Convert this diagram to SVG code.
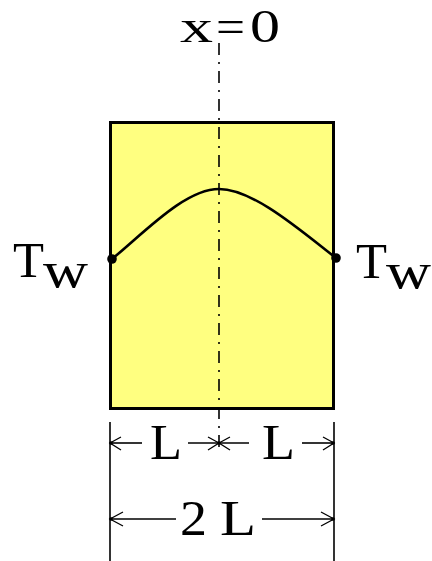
<svg xmlns="http://www.w3.org/2000/svg" width="432" height="561" viewBox="0 0 432 561">
<style>
.t{font-family:"Liberation Serif","Times New Roman",serif;fill:#000;font-size:50px}
.top{font-size:46px}
.ln{stroke:#000;stroke-width:1.6;fill:none}
.bar{stroke:#000;stroke-width:1.3;fill:none}
</style>
<rect width="432" height="561" fill="#fff"/>
<g id="plate">
<rect x="110.5" y="122.5" width="223" height="286" fill="#FFFF80" stroke="#000" stroke-width="3"/>
</g>
<g id="centerline">
<line x1="219" y1="43" x2="219" y2="453" stroke="#000" stroke-width="1.6" stroke-dasharray="12 7 2 7"/>
</g>
<g id="profile">
<path d="M112,259 C145,232 185,189 219,189 C253,189 300,230 336,258" fill="none" stroke="#000" stroke-width="2.6"/>
<circle cx="112" cy="259" r="4.8" fill="#000"/>
<circle cx="336" cy="258" r="4.8" fill="#000"/>
</g>
<g id="labels">
<text class="t top" x="180" y="42" textLength="33" lengthAdjust="spacingAndGlyphs">x</text>
<text class="t top" x="216" y="42" textLength="29" lengthAdjust="spacingAndGlyphs">=</text>
<text class="t top" x="250" y="42" textLength="30" lengthAdjust="spacingAndGlyphs">0</text>
<text class="t" x="13" y="277" textLength="31" lengthAdjust="spacingAndGlyphs">T</text>
<text class="t" x="43" y="287" font-size="52" textLength="45" lengthAdjust="spacingAndGlyphs">w</text>
<text class="t" x="356" y="278" textLength="31" lengthAdjust="spacingAndGlyphs">T</text>
<text class="t" x="386" y="288" font-size="52" textLength="45" lengthAdjust="spacingAndGlyphs">w</text>
</g>
<g id="dimensions">
<line class="ln" x1="110" y1="422" x2="110" y2="561"/>
<line class="ln" x1="334" y1="422" x2="334" y2="561"/>
<line class="ln" x1="110" y1="443" x2="142" y2="443"/>
<line class="ln" x1="188" y1="443" x2="249" y2="443"/>
<line class="ln" x1="302" y1="443" x2="334" y2="443"/>
<path class="bar" d="M121,437 L110,443 L121,450"/>
<path class="bar" d="M208,437 L219,443 L208,450"/>
<path class="bar" d="M230,437 L219,443 L230,450"/>
<path class="bar" d="M323,437 L334,443 L323,450"/>
<circle cx="111" cy="443" r="1.8" fill="#000"/>
<circle cx="219" cy="443" r="1.8" fill="#000"/>
<circle cx="333" cy="443" r="1.8" fill="#000"/>
<text class="t" x="150" y="459" textLength="32" lengthAdjust="spacingAndGlyphs">L</text>
<text class="t" x="262" y="459" textLength="33" lengthAdjust="spacingAndGlyphs">L</text>
<line class="ln" x1="110" y1="519" x2="176" y2="519"/>
<line class="ln" x1="262" y1="519" x2="334" y2="519"/>
<path class="bar" d="M123,512 L110,519 L123,526"/>
<path class="bar" d="M321,512 L334,519 L321,526"/>
<circle cx="111" cy="519" r="1.8" fill="#000"/>
<circle cx="333" cy="519" r="1.8" fill="#000"/>
<text class="t" x="180" y="535" textLength="27" lengthAdjust="spacingAndGlyphs">2</text>
<text class="t" x="220" y="535" textLength="36" lengthAdjust="spacingAndGlyphs">L</text>
</g>
</svg>
